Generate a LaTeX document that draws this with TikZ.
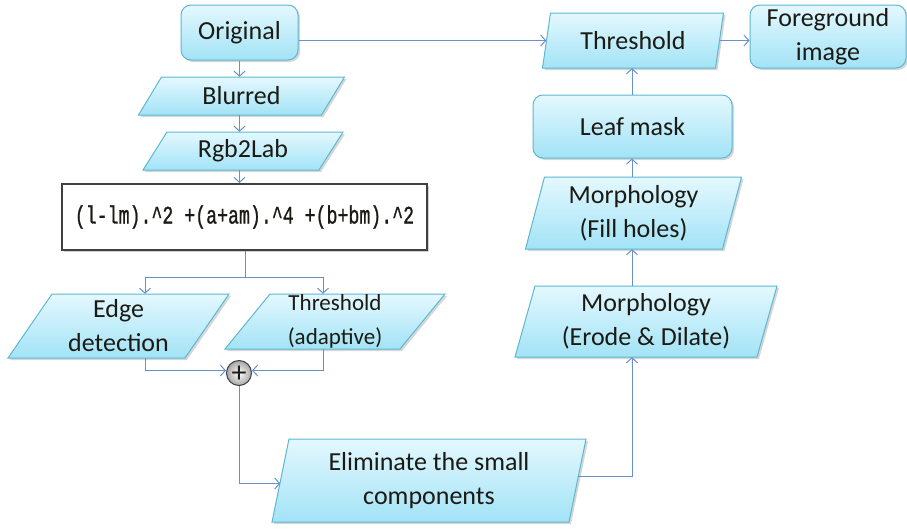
\documentclass[tikz,border=0pt]{standalone}
\usepackage{fontspec}
\usepackage{graphicx}
\setmainfont{Carlito}
\newfontfamily\formulafont[FakeBold=1.2]{Liberation Mono}
\usetikzlibrary{arrows.meta,calc,shadows}
\definecolor{boxtop}{HTML}{E4F8FE}
\definecolor{boxbot}{HTML}{A2E3F6}
\definecolor{boxline}{HTML}{5CB8D2}
\definecolor{arrcol}{HTML}{6A90CA}
\definecolor{txtcol}{HTML}{1C1A14}
\tikzset{
  boxfill/.style={top color=boxtop,bottom color=boxbot,draw=boxline,line width=1pt},
  lbl/.style={text=txtcol,align=center,font=\fontsize{26}{34}\selectfont,inner sep=0pt},
  arr/.style={draw=arrcol,line width=1pt,-{Straight Barb[length=5pt,width=11pt,line width=1pt]}},
  ln/.style={draw=arrcol,line width=1pt},
}
% parallelogram: name, cx, cy, w, h, slant, text, fontsize
\newcommand\paragm[8]{%
  \fill[black!16] (#2-#4/2-#6/2+2,#3+#5/2+2) -- (#2+#4/2-#6/2+2,#3+#5/2+2) -- (#2+#4/2+#6/2+2,#3-#5/2+2) -- (#2-#4/2+#6/2+2,#3-#5/2+2) -- cycle;
  \path[boxfill] (#2-#4/2-#6/2,#3+#5/2) -- (#2+#4/2-#6/2,#3+#5/2) -- (#2+#4/2+#6/2,#3-#5/2) -- (#2-#4/2+#6/2,#3-#5/2) -- cycle;
  \node[lbl,minimum width=#4pt,minimum height=#5pt,font=\fontsize{#8}{34}\selectfont] (#1) at (#2,#3) {#7};%
}
\newcommand\rrect[7]{%
  \fill[black!16,rounded corners=10pt] (#2-#4/2+2,#3-#5/2+2) rectangle (#2+#4/2+2,#3+#5/2+2);
  \node[boxfill,rounded corners=10pt,minimum width=#4pt,minimum height=#5pt,inner sep=0pt] (#1) at (#2,#3) {};
  \node[lbl,font=\fontsize{#7}{34}\selectfont] at (#2,#3) {#6};%
}
\begin{document}
\begin{tikzpicture}[x=1pt,y=-1pt]
\useasboundingbox (0,0) rectangle (907,530);
% nodes
\rrect{orig}{239.5}{32.5}{117}{55}{Original}{26}
\paragm{blur}{241.5}{96}{183}{38}{23}{Blurred}{26}
\paragm{lab}{243}{151}{176}{38}{24}{Rgb2Lab}{26}
\fill[black!18] (64,186) rectangle (429,252);
\node[draw=black!75,fill=white,line width=2pt,minimum width=365pt,minimum height=66pt,inner sep=0pt] (form) at (244.5,217)
  {\scalebox{0.76}[1.05]{\color{txtcol}\formulafont\fontsize{24}{28}\selectfont (l-lm).\textasciicircum 2 +(a+am).\textasciicircum 4 +(b+bm).\textasciicircum 2}};
\paragm{edge}{118.5}{326}{177}{64}{44}{Edge\\detection}{26}
\paragm{thra}{335}{321.5}{175}{55}{45}{Threshold\\(adaptive)}{23}
\node[circle,draw=black!75,line width=1pt,inner color=white,outer color=black!35,minimum size=25pt,inner sep=0pt,text=txtcol] (plus) at (239,373) {};
\node[text=txtcol,inner sep=0pt,font=\fontsize{30}{30}\selectfont] at ([yshift=-1pt]plus.center) {+};
\paragm{elim}{429}{480.5}{297}{83}{17}{Eliminate the small\\components}{26}
\paragm{erode}{646}{321.5}{242}{71}{20}{Morphology\\(Erode \& Dilate)}{26}
\paragm{fill}{633.5}{213}{197}{72}{19}{Morphology\\(Fill holes)}{26}
\rrect{leaf}{632.5}{126.5}{199}{63}{Leaf mask}{26}
\paragm{thr}{633}{40.5}{173}{55}{8}{Threshold}{26}
\rrect{fg}{828}{36.5}{156}{63}{Foreground\\image}{26}
% connectors
\coordinate (split) at (245,277);
\draw[arr] (orig.south) -- (blur.north -| orig.south);
\draw[arr] (blur.south -| orig.south) -- (lab.north -| orig.south);
\draw[arr] (lab.south -| orig.south) -- (form.north -| orig.south);
\draw[ln] (form.south -| split) -- (split);
\draw[arr] (split) -| ([xshift=26.5pt]edge.north);
\draw[arr] (split) -| ([xshift=-12pt]thra.north);
\draw[arr] ([xshift=26.5pt]edge.south) |- ([yshift=2.5pt]plus.west);
\draw[arr] ([xshift=-12pt]thra.south) |- ([yshift=2.5pt]plus.east);
\draw[arr] (plus.south) |- ([yshift=-3pt]elim.west);
\draw[arr] ([yshift=4.5pt]elim.east) -| ([xshift=-14pt]erode.south);
\draw[arr] ([xshift=-1.5pt]fill.north |- erode.north) -- ([xshift=-1.5pt]fill.south);
\draw[arr] ([xshift=-1.5pt]fill.north) -- ([xshift=-1.5pt]fill.north |- leaf.south);
\draw[arr] ([xshift=-1pt]thr.south |- leaf.north) -- ([xshift=-1pt]thr.south);
\draw[arr] (orig.east |- thr.west) -- (thr.west);
\draw[arr] (thr.east) -- (fg.west |- thr.east);
\end{tikzpicture}
\end{document}
